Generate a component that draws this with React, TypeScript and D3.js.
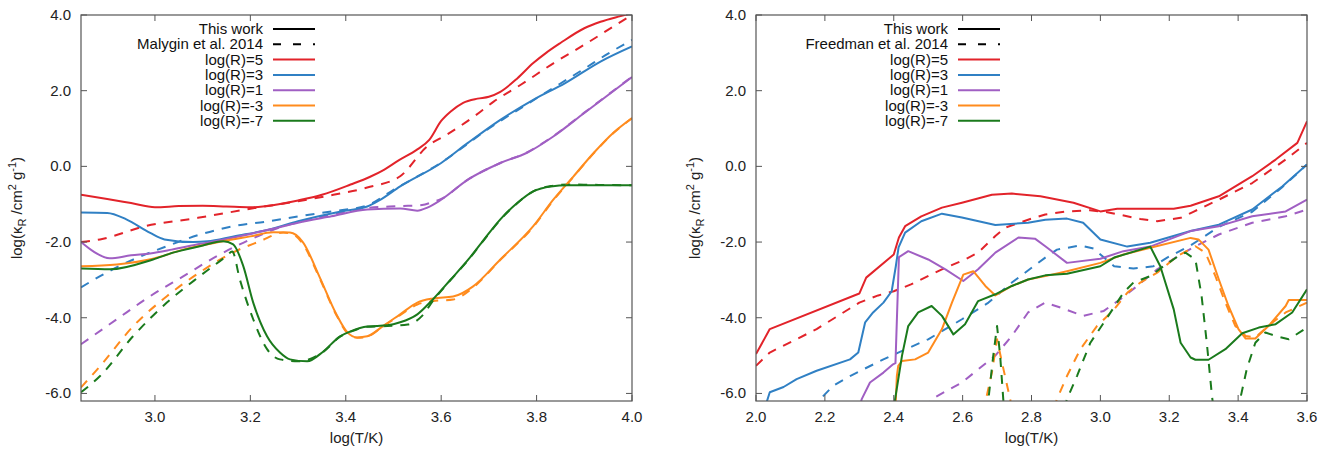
import React from "react";
import * as d3 from "d3";

type Pt = [number, number] | null;

// ---------- Left panel: This work vs Malygin et al. 2014 ----------
const L_R5_this: Pt[] = [[2.845,-0.75],[2.9,-0.86],[2.95,-0.97],[3.0,-1.08],[3.05,-1.05],[3.1,-1.04],[3.15,-1.06],[3.2,-1.08],[3.25,-1.02],[3.3,-0.9],[3.35,-0.75],[3.41,-0.48],[3.45,-0.28],[3.48,-0.09],[3.51,0.15],[3.55,0.45],[3.575,0.7],[3.6,1.2],[3.62,1.45],[3.646,1.68],[3.676,1.79],[3.70,1.84],[3.724,1.97],[3.76,2.33],[3.793,2.73],[3.82,3.0],[3.85,3.26],[3.9,3.65],[3.934,3.82],[3.976,3.97],[4.0,4.05]];
const L_R5_ref: Pt[] = [[2.845,-2.0],[2.885,-1.93],[2.98,-1.58],[3.09,-1.36],[3.2,-1.12],[3.3,-0.92],[3.374,-0.75],[3.445,-0.56],[3.514,-0.26],[3.571,0.53],[3.612,0.84],[3.668,1.31],[3.71,1.71],[3.766,2.15],[3.836,2.73],[3.906,3.26],[3.979,3.84],[4.0,4.0]];
const L_R3_this: Pt[] = [[2.845,-1.22],[2.9,-1.23],[2.94,-1.4],[2.99,-1.76],[3.02,-1.93],[3.08,-2.0],[3.11,-1.98],[3.165,-1.85],[3.24,-1.67],[3.3,-1.45],[3.39,-1.19],[3.445,-1.06],[3.47,-0.9],[3.514,-0.53],[3.6,0.09],[3.656,0.62],[3.724,1.23],[3.793,1.76],[3.86,2.2],[3.934,2.77],[4.0,3.17]];
const L_R3_ref: Pt[] = [[2.845,-3.2],[2.885,-2.9],[2.955,-2.46],[3.025,-2.11],[3.095,-1.8],[3.165,-1.58],[3.24,-1.45],[3.3,-1.32],[3.37,-1.19],[3.445,-1.03],[3.5,-0.62],[3.6,0.1],[3.7,1.0],[3.8,1.8],[3.9,2.58],[3.95,2.98],[4.0,3.34]];
const L_R1_this: Pt[] = [[2.845,-2.0],[2.87,-2.24],[2.905,-2.43],[2.95,-2.35],[2.99,-2.3],[3.035,-2.2],[3.09,-2.06],[3.165,-1.88],[3.24,-1.67],[3.3,-1.49],[3.37,-1.32],[3.445,-1.14],[3.514,-1.11],[3.55,-1.17],[3.571,-1.09],[3.6,-0.88],[3.656,-0.35],[3.724,0.09],[3.78,0.36],[3.835,0.79],[3.9,1.41],[4.0,2.36]];
const L_R1_ref: Pt[] = [[2.845,-4.7],[2.92,-4.04],[2.99,-3.43],[3.06,-2.9],[3.13,-2.37],[3.2,-1.93],[3.27,-1.58],[3.32,-1.42],[3.37,-1.28],[3.445,-1.1],[3.514,-1.05],[3.56,-1.02],[3.58,-0.95],[3.6,-0.86],[3.656,-0.35],[3.724,0.09],[3.78,0.37],[3.835,0.8],[3.9,1.42],[4.0,2.37]];
const L_Rm3_this: Pt[] = [[2.845,-2.64],[2.92,-2.59],[2.996,-2.44],[3.059,-2.2],[3.143,-1.98],[3.2,-1.85],[3.248,-1.74],[3.283,-1.75],[3.31,-2.0],[3.345,-2.92],[3.38,-3.9],[3.403,-4.38],[3.424,-4.52],[3.445,-4.49],[3.478,-4.22],[3.514,-3.91],[3.55,-3.6],[3.583,-3.49],[3.625,-3.44],[3.667,-3.17],[3.724,-2.46],[3.793,-1.58],[3.835,-0.88],[3.877,-0.27],[3.92,0.36],[3.961,0.89],[4.0,1.28]];
const L_Rm3_ref: Pt[] = [[2.845,-5.84],[2.885,-5.28],[2.954,-4.23],[3.025,-3.43],[3.094,-2.8],[3.164,-2.27],[3.22,-1.98],[3.269,-1.75],[3.29,-1.8],[3.31,-2.05],[3.345,-2.95],[3.38,-3.92],[3.403,-4.4],[3.424,-4.53],[3.445,-4.5],[3.478,-4.23],[3.514,-3.93],[3.55,-3.65],[3.583,-3.56],[3.625,-3.52],[3.667,-3.2],[3.724,-2.47],[3.793,-1.6],[3.835,-0.9],[3.877,-0.28],[3.92,0.35],[3.961,0.88],[4.0,1.27]];
const L_Rm7_this: Pt[] = [[2.845,-2.7],[2.906,-2.72],[2.996,-2.46],[3.038,-2.28],[3.094,-2.11],[3.143,-1.98],[3.164,-2.06],[3.185,-2.63],[3.206,-3.6],[3.235,-4.49],[3.262,-4.92],[3.283,-5.1],[3.319,-5.15],[3.353,-4.89],[3.388,-4.49],[3.41,-4.36],[3.445,-4.23],[3.487,-4.2],[3.514,-4.12],[3.55,-3.91],[3.583,-3.51],[3.62,-2.99],[3.657,-2.46],[3.69,-1.93],[3.724,-1.4],[3.76,-0.96],[3.793,-0.66],[3.83,-0.53],[3.865,-0.5],[3.93,-0.5],[4.0,-0.5]];
const L_Rm7_ref: Pt[] = [[2.845,-5.97],[2.885,-5.54],[2.954,-4.49],[3.025,-3.6],[3.094,-2.9],[3.15,-2.37],[3.162,-2.25],[3.178,-2.99],[3.206,-4.04],[3.235,-4.83],[3.262,-5.1],[3.3,-5.15],[3.353,-4.9],[3.388,-4.5],[3.41,-4.37],[3.445,-4.24],[3.487,-4.22],[3.53,-4.18],[3.56,-3.95],[3.583,-3.55],[3.62,-3.0],[3.657,-2.47],[3.69,-1.94],[3.724,-1.41],[3.76,-0.97],[3.793,-0.66],[3.83,-0.52],[3.865,-0.48],[3.93,-0.49],[4.0,-0.5]];

// ---------- Right panel: This work vs Freedman et al. 2014 ----------
const R_R5_this: Pt[] = [[2.0,-4.96],[2.04,-4.3],[2.30,-3.36],[2.32,-2.94],[2.40,-2.33],[2.415,-1.88],[2.433,-1.58],[2.48,-1.32],[2.54,-1.09],[2.598,-0.96],[2.685,-0.75],[2.743,-0.72],[2.826,-0.79],[2.922,-0.96],[3.0,-1.19],[3.049,-1.12],[3.213,-1.12],[3.262,-1.04],[3.344,-0.79],[3.441,-0.26],[3.509,0.18],[3.572,0.62],[3.6,1.19]];
const R_R5_ref: Pt[] = [[2.0,-5.27],[2.04,-4.92],[2.176,-4.3],[2.30,-3.6],[2.355,-3.41],[2.40,-3.3],[2.45,-3.12],[2.54,-2.72],[2.607,-2.46],[2.645,-2.28],[2.695,-1.84],[2.724,-1.62],[2.79,-1.41],[2.84,-1.27],[2.903,-1.19],[2.97,-1.16],[3.02,-1.21],[3.116,-1.39],[3.165,-1.45],[3.233,-1.36],[3.27,-1.2],[3.344,-0.88],[3.441,-0.44],[3.538,0.18],[3.6,0.62]];
const R_R3_this: Pt[] = [[2.025,-6.4],[2.04,-5.97],[2.08,-5.83],[2.118,-5.62],[2.176,-5.4],[2.273,-5.1],[2.297,-4.92],[2.317,-4.12],[2.34,-3.86],[2.37,-3.6],[2.394,-3.3],[2.406,-2.64],[2.414,-2.14],[2.433,-1.75],[2.48,-1.45],[2.54,-1.25],[2.598,-1.35],[2.695,-1.55],[2.79,-1.49],[2.84,-1.41],[2.903,-1.38],[2.95,-1.49],[3.0,-1.93],[3.078,-2.12],[3.145,-2.02],[3.262,-1.71],[3.344,-1.54],[3.441,-1.14],[3.528,-0.53],[3.6,0.05]];
const R_R3_ref: Pt[] = [[2.16,-6.4],[2.224,-5.8],[2.273,-5.54],[2.37,-5.1],[2.413,-4.92],[2.5,-4.57],[2.598,-4.04],[2.675,-3.6],[2.743,-3.07],[2.84,-2.41],[2.874,-2.2],[2.942,-2.09],[2.98,-2.17],[3.04,-2.64],[3.096,-2.7],[3.154,-2.64],[3.194,-2.41],[3.262,-2.09],[3.344,-1.6],[3.441,-1.2],[3.528,-0.55],[3.6,0.05]];
const R_R1_this: Pt[] = [[2.3,-6.4],[2.307,-6.15],[2.331,-5.71],[2.37,-5.45],[2.398,-5.23],[2.405,-5.2],[2.415,-2.4],[2.442,-2.24],[2.5,-2.46],[2.55,-2.72],[2.602,-3.03],[2.645,-2.72],[2.695,-2.28],[2.762,-1.88],[2.81,-1.91],[2.84,-2.11],[2.903,-2.55],[3.0,-2.44],[3.067,-2.24],[3.145,-2.12],[3.262,-1.71],[3.344,-1.58],[3.441,-1.32],[3.538,-1.19],[3.6,-0.88]];
const R_R1_ref: Pt[] = [[2.49,-6.4],[2.51,-6.15],[2.598,-5.71],[2.695,-5.0],[2.743,-4.48],[2.79,-3.86],[2.84,-3.6],[2.884,-3.73],[2.95,-3.95],[3.01,-3.82],[3.058,-3.51],[3.107,-3.16],[3.165,-2.72],[3.233,-2.33],[3.276,-2.11],[3.344,-1.8],[3.441,-1.49],[3.538,-1.32],[3.6,-1.14]];
const R_Rm3_this: Pt[] = [[2.405,-6.4],[2.409,-5.54],[2.413,-5.27],[2.424,-5.14],[2.462,-5.1],[2.5,-4.92],[2.54,-4.3],[2.569,-3.6],[2.602,-2.86],[2.631,-2.77],[2.666,-3.16],[2.695,-3.41],[2.743,-3.16],[2.79,-2.99],[2.84,-2.9],[2.903,-2.77],[3.0,-2.55],[3.067,-2.33],[3.145,-2.15],[3.262,-1.89],[3.285,-1.93],[3.314,-2.2],[3.344,-2.99],[3.372,-3.69],[3.401,-4.3],[3.422,-4.55],[3.45,-4.55],[3.488,-4.22],[3.538,-3.69],[3.547,-3.53],[3.6,-3.53]];
const R_Rm3_ref: Pt[] = [[2.66,-6.5],[2.668,-6.15],[2.685,-5.45],[2.70,-4.57],[2.714,-5.17],[2.738,-6.15],[2.745,-6.5],null,[2.865,-6.4],[2.874,-6.15],[2.903,-5.54],[2.942,-4.83],[2.99,-4.22],[3.04,-3.78],[3.078,-3.34],[3.116,-3.07],[3.165,-2.81],[3.223,-2.37],[3.276,-2.11],[3.305,-2.28],[3.334,-2.9],[3.363,-3.6],[3.392,-4.22],[3.422,-4.48],[3.45,-4.52],[3.499,-4.13],[3.538,-3.86],[3.6,-3.6]];
const R_Rm7_this: Pt[] = [[2.4,-6.4],[2.404,-6.15],[2.424,-5.0],[2.442,-4.22],[2.471,-3.86],[2.51,-3.69],[2.54,-3.95],[2.573,-4.44],[2.607,-4.17],[2.645,-3.56],[2.695,-3.38],[2.743,-3.16],[2.79,-2.99],[2.84,-2.88],[2.903,-2.84],[3.0,-2.64],[3.04,-2.41],[3.145,-2.12],[3.174,-2.64],[3.213,-3.78],[3.233,-4.66],[3.262,-5.05],[3.276,-5.11],[3.314,-5.11],[3.363,-4.83],[3.412,-4.41],[3.46,-4.26],[3.509,-4.17],[3.557,-3.86],[3.6,-3.25]];
const R_Rm7_ref: Pt[] = [[2.67,-6.5],[2.675,-6.15],[2.689,-5.0],[2.70,-4.22],[2.709,-5.0],[2.718,-6.15],[2.722,-6.5],null,[2.895,-6.4],[2.903,-6.15],[2.932,-5.54],[2.971,-4.66],[3.01,-4.13],[3.067,-3.34],[3.096,-3.07],[3.145,-2.9],[3.183,-2.64],[3.233,-2.33],[3.247,-2.28],[3.276,-2.46],[3.294,-3.43],[3.309,-4.66],[3.324,-6.06],[3.33,-6.5],null,[3.40,-6.5],[3.406,-6.15],[3.425,-5.36],[3.45,-4.66],[3.479,-4.39],[3.509,-4.48],[3.547,-4.57],[3.6,-4.26]];

// ---------- Axes & legend text ----------
const leftXTicks = [3.0, 3.2, 3.4, 3.6, 3.8, 4.0];
const rightXTicks = [2.0, 2.2, 2.4, 2.6, 2.8, 3.0, 3.2, 3.4, 3.6];
const yTicks = [-6, -4, -2, 0, 2, 4];
const seriesLabels = ["log(R)=5", "log(R)=3", "log(R)=1", "log(R)=-3", "log(R)=-7"];
const leftRefLabel = "Malygin et al. 2014";
const rightRefLabel = "Freedman et al. 2014";
const thisWorkLabel = "This work";
const xTitle = "log(T/K)";

const COLORS = ["#e2232a", "#3080c4", "#a05fc3", "#ff8b1d", "#1a7a1c"];
const FONT = "'Liberation Sans', Arial, Helvetica, sans-serif";

type PanelProps = {
  id: string;
  x0: number;
  xDomain: [number, number];
  xTicks: number[];
  thisSeries: Pt[][];
  refSeries: Pt[][];
  refLabel: string;
  legendTextX: number;
  curve: d3.CurveFactory;
  yTitleX: number;
};

const TOP = 15;
const BOTTOM = 401;
const W = 551;

function Panel(p: PanelProps) {
  const x = d3.scaleLinear().domain(p.xDomain).range([p.x0, p.x0 + W]);
  const y = d3.scaleLinear().domain([-6.2, 4]).range([BOTTOM, TOP]);
  const line = d3
    .line<Pt>()
    .defined((d) => d !== null)
    .x((d) => x((d as [number, number])[0]))
    .y((d) => y((d as [number, number])[1]))
    .curve(p.curve);
  const frame = "#555";
  const tick = 6;
  const legendRows = [thisWorkLabel, p.refLabel, ...seriesLabels];
  const lx1 = p.legendTextX + 10;
  const lx2 = p.legendTextX + 52;
  const rowY = (i: number) => 29 + i * 15.3;
  const yMid = (TOP + BOTTOM) / 2;
  return (
    <g>
      <defs>
        <clipPath id={p.id}>
          <rect x={p.x0} y={TOP} width={W} height={BOTTOM - TOP} />
        </clipPath>
      </defs>
      <g clipPath={`url(#${p.id})`} fill="none" strokeWidth={2} strokeLinejoin="round">
        {p.refSeries.map((s, i) => (
          <path key={"r" + i} d={line(s) || ""} stroke={COLORS[i]} strokeDasharray="9,8" />
        ))}
        {p.thisSeries.map((s, i) => (
          <path key={"t" + i} d={line(s) || ""} stroke={COLORS[i]} />
        ))}
      </g>
      {/* frame */}
      <rect x={p.x0} y={TOP} width={W} height={BOTTOM - TOP} fill="none" stroke={frame} strokeWidth={1.2} />
      {p.xTicks.map((t) => (
        <g key={"xt" + t}>
          <line x1={x(t)} x2={x(t)} y1={BOTTOM} y2={BOTTOM - tick} stroke={frame} />
          <line x1={x(t)} x2={x(t)} y1={TOP} y2={TOP + tick} stroke={frame} />
          <text x={x(t)} y={422} textAnchor="middle" fontSize={15} fontFamily={FONT} fill="#222">
            {t.toFixed(1)}
          </text>
        </g>
      ))}
      {yTicks.map((t) => (
        <g key={"yt" + t}>
          <line x1={p.x0} x2={p.x0 + tick} y1={y(t)} y2={y(t)} stroke={frame} />
          <line x1={p.x0 + W} x2={p.x0 + W - tick} y1={y(t)} y2={y(t)} stroke={frame} />
          <text x={p.x0 - 10} y={y(t) + 5} textAnchor="end" fontSize={15} fontFamily={FONT} fill="#222">
            {t.toFixed(1)}
          </text>
        </g>
      ))}
      <text x={p.x0 + W / 2} y={443} textAnchor="middle" fontSize={15} fontFamily={FONT} fill="#222">
        {xTitle}
      </text>
      <text
        transform={`translate(${p.yTitleX},${yMid}) rotate(-90)`}
        textAnchor="middle"
        fontSize={15}
        fontFamily={FONT}
        fill="#222"
      >
        <tspan>log(κ</tspan>
        <tspan fontSize={11} dy={4}>R</tspan>
        <tspan dy={-4}> /cm</tspan>
        <tspan fontSize={11} dy={-6}>2</tspan>
        <tspan dy={6}> g</tspan>
        <tspan fontSize={11} dy={-6}>-1</tspan>
        <tspan dy={6}>)</tspan>
      </text>
      {/* legend */}
      {legendRows.map((lab, i) => (
        <g key={"lg" + i}>
          <text x={p.legendTextX} y={rowY(i) + 5} textAnchor="end" fontSize={15} fontFamily={FONT} fill="#111">
            {lab}
          </text>
          <line
            x1={lx1}
            x2={lx2}
            y1={rowY(i)}
            y2={rowY(i)}
            stroke={i < 2 ? "#000" : COLORS[i - 2]}
            strokeWidth={2}
            strokeDasharray={i === 1 ? "8,12" : undefined}
          />
        </g>
      ))}
    </g>
  );
}

export default function App() {
  return (
    <svg
      width={1339}
      height={453}
      style={{ position: "absolute", left: 0, top: 0, background: "#fff" }}
    >
      <rect x={0} y={0} width={1339} height={453} fill="#fff" />
      <Panel
        id="clipL"
        x0={81}
        xDomain={[2.845, 4.0]}
        xTicks={leftXTicks}
        thisSeries={[L_R5_this, L_R3_this, L_R1_this, L_Rm3_this, L_Rm7_this]}
        refSeries={[L_R5_ref, L_R3_ref, L_R1_ref, L_Rm3_ref, L_Rm7_ref]}
        refLabel={leftRefLabel}
        legendTextX={263}
        curve={d3.curveMonotoneX}
        yTitleX={22}
      />
      <Panel
        id="clipR"
        x0={756}
        xDomain={[2.0, 3.6]}
        xTicks={rightXTicks}
        thisSeries={[R_R5_this, R_R3_this, R_R1_this, R_Rm3_this, R_Rm7_this]}
        refSeries={[R_R5_ref, R_R3_ref, R_R1_ref, R_Rm3_ref, R_Rm7_ref]}
        refLabel={rightRefLabel}
        legendTextX={948}
        curve={d3.curveLinear}
        yTitleX={700}
      />
    </svg>
  );
}
